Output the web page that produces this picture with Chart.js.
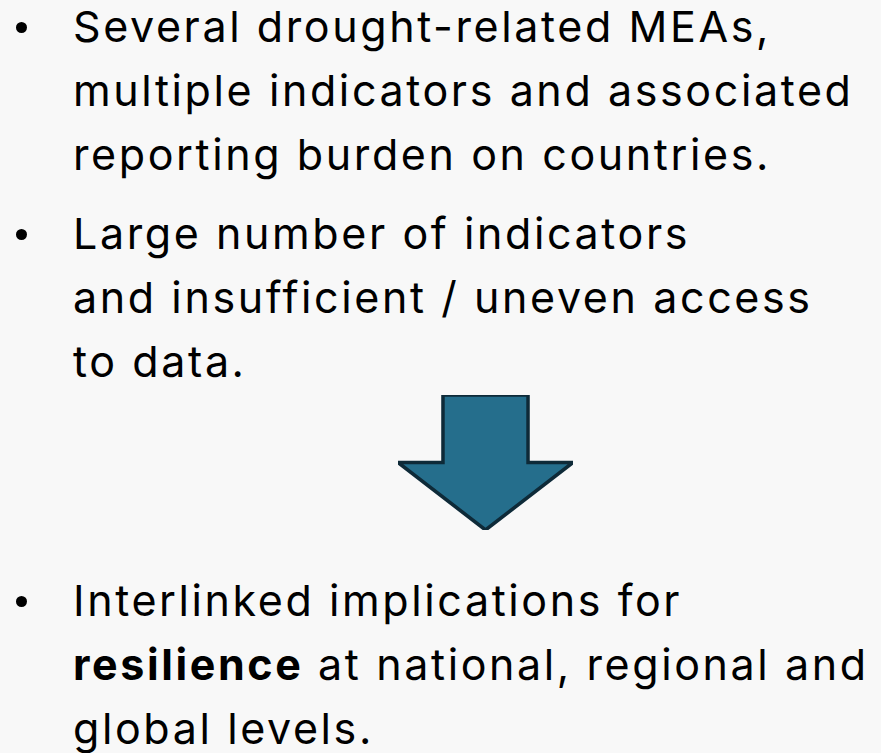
<!DOCTYPE html>
<html><head><meta charset="utf-8">
<script src="https://cdn.jsdelivr.net/npm/chart.js@4"></script>
<style>
html,body{margin:0;padding:0;background:#f8f8f8;width:881px;height:753px;overflow:hidden;}
body{position:relative;font-family:Inter,"Noto Sans",sans-serif;color:#000;}
.blk{position:absolute;left:73px;font-size:43px;line-height:64px;letter-spacing:2.6px;white-space:nowrap;}
.blk::before{content:"";position:absolute;left:-57px;top:28px;width:11px;height:11px;border-radius:50%;background:#000;}
#wrap{position:absolute;left:388px;top:385px;width:195px;height:155px;}
</style></head>
<body>
<div class="blk" style="top:-6px">Several drought-related MEAs,<br>multiple indicators and associated<br>reporting burden on countries.</div>
<div class="blk" style="top:201px">Large number of indicators<br>and insufficient / uneven access<br>to data.</div>
<div class="blk" style="top:568px">Interlinked implications for<br><b>resilience</b> at national, regional and<br>global levels.</div>
<div id="wrap"><canvas id="c" width="195" height="155"></canvas></div>
<script>
// Arrow outline (relative shape units): x across, y up
const arrowX = [-0.243, 0.243, 0.243, 0.5, 0, -0.5, -0.243, -0.243];
const arrowY = [1, 1, 0.5, 0.5, 0, 0.5, 0.5, 1];
const pts = arrowX.map((x,i)=>({x:x,y:arrowY[i]}));
new Chart(document.getElementById('c'),{
  type:'line',
  data:{datasets:[{data:pts,fill:'shape',backgroundColor:'#256e8c',borderColor:'#0e2a38',borderWidth:3.5,pointRadius:0,tension:0,borderJoinStyle:'miter'}]},
  options:{responsive:false,animation:false,layout:{padding:10},
    plugins:{legend:{display:false},tooltip:{enabled:false}},
    scales:{x:{type:'linear',min:-0.5,max:0.5,display:false},y:{min:0,max:1,display:false}}}
});
</script>
</body></html>
